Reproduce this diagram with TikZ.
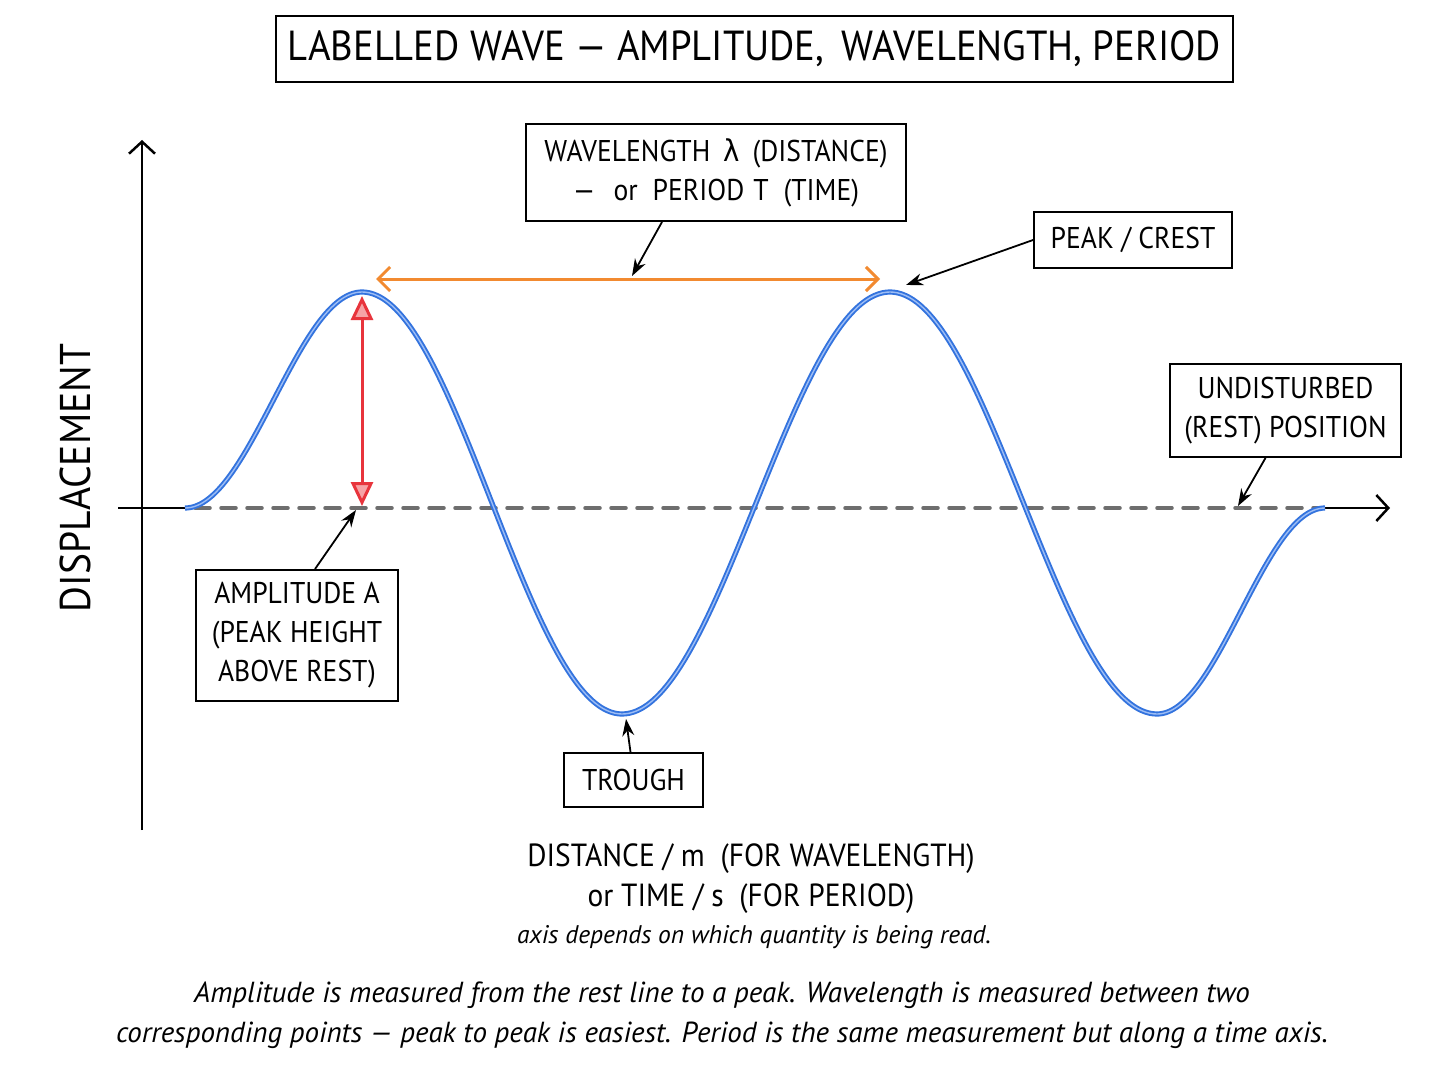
\documentclass[tikz,border=0pt]{standalone}
\usepackage{fontspec}
\setmainfont{PT Sans}[FakeStretch=0.92]
\newfontfamily\capfont{PT Sans}
\newfontfamily\grk{DejaVu Sans}[FakeStretch=0.92]
\usetikzlibrary{arrows.meta}
\definecolor{wblue}{HTML}{3373DE}
\definecolor{wblueL}{HTML}{9DBDF5}
\definecolor{ared}{HTML}{E8343C}
\definecolor{aredL}{HTML}{F6A3A6}
\definecolor{aorange}{HTML}{F28A30}
\definecolor{rgray}{HTML}{6E6E6E}
\begin{document}
\begin{tikzpicture}[x=1pt,y=-1pt,
  box/.style={draw=black, line width=1.9pt, fill=white, inner sep=0pt, align=center},
  lbl/.style={font=\fontsize{30}{39}\selectfont},
  conn/.style={draw=black, line width=1.8pt, -{Stealth[length=17pt,width=12pt]}},
  axis/.style={draw=black, line width=2.5pt},
  wave/.style={draw=wblue, line width=1.9pt, double=wblueL, double distance=1.4pt},
]
\useasboundingbox (0,0) rectangle (1448,1086);
\fill[white] (0,0) rectangle (1448,1086);

% axes
\draw[axis, -{Straight Barb[length=12pt,width=26pt]}] (142,830) -- (142,140);
\draw[axis] (118,508) -- (186,508);
\draw[axis, -{Straight Barb[length=12pt,width=26pt]}] (1324,508) -- (1390,508);
\draw[draw=rgray, line width=3.5pt, line cap=round, dash pattern=on 15pt off 11pt] (195,508) -- (1318,508);

% wave
\draw[wave] plot[domain=185:362, samples=60, smooth] (\x,{508-108*(1-cos((\x-185)/177*180))})
  -- plot[domain=362:622, samples=70, smooth] (\x,{503-211*cos((\x-362)/260*180)})
  -- plot[domain=622:890, samples=70, smooth] (\x,{503+211*cos((\x-622)/268*180)})
  -- plot[domain=890:1157, samples=70, smooth] (\x,{503-211*cos((\x-890)/267*180)})
  -- plot[domain=1157:1325, samples=60, smooth] (\x,{714-103*(1-cos((\x-1157)/168*180))});

% amplitude arrow
\draw[draw=ared, line width=3pt, {Triangle[length=24pt,width=22pt,fill=aredL]}-{Triangle[length=24pt,width=22pt,fill=aredL]}] (362,296) -- (362,506);
% wavelength arrow
\draw[draw=aorange, line width=3pt, {Straight Barb[length=12pt,width=24pt]}-{Straight Barb[length=12pt,width=24pt]}] (376,279) -- (880,279);

% title
\node[box, minimum width=957pt, minimum height=66pt, font=\fontsize{42}{50}\selectfont] (title) at (754.5,49) {LABELLED WAVE — AMPLITUDE,\, WAVELENGTH, PERIOD};

% label boxes
\node[box, lbl, minimum width=380pt, minimum height=97pt] (wl) at (716,172.5) {WAVELENGTH\hspace{13pt}{\grk λ}\hspace{13pt}(DISTANCE)\\—\hspace{18pt}or\hspace{15pt}PERIOD\hspace{9pt}T\hspace{15pt}(TIME)};
\node[box, lbl, minimum width=198pt, minimum height=56pt] (peak) at (1133,240) {PEAK / CREST};
\node[box, lbl, minimum width=231pt, minimum height=93pt] (rest) at (1285.5,410.5) {UNDISTURBED\\(REST) POSITION};
\node[box, lbl, minimum width=202pt, minimum height=131pt] (amp) at (297,635.5) {AMPLITUDE A\\(PEAK HEIGHT\\ABOVE REST)};
\node[box, lbl, minimum width=139pt, minimum height=54pt] (trough) at (633.5,780) {TROUGH};

\coordinate (wlT) at (632,276);
\coordinate (peakT) at (906,285);
\coordinate (restT) at (1238,506);
\coordinate (ampT) at (356,510);
\coordinate (troughT) at (626,719);

\draw[conn] ([xshift=-54pt]wl.south) -- (wlT);
\draw[conn] (peak.west) -- (peakT);
\draw[conn] ([xshift=-20pt]rest.south) -- (restT);
\draw[conn] ([xshift=18pt]amp.north) -- (ampT);
\draw[conn] ([xshift=-3pt]trough.north) -- (troughT);

% axis labels
\node[rotate=90, font=\fontsize{43}{50}\selectfont] (ylab) at (75,478) {DISPLACEMENT};
\node[align=center, font=\fontsize{32}{40}\selectfont] (xlab) at (751,879) {DISTANCE / m\ \ (FOR WAVELENGTH)\\or TIME / s\ \ (FOR PERIOD)};
\node[font=\capfont\itshape\fontsize{25.5}{30}\selectfont] (xnote) at (754,937) {axis depends on which quantity is being read.};

\node[align=center, font=\capfont\itshape\fontsize{29}{40}\selectfont] (caption) at (722,1015) {Amplitude is measured from the rest line to a peak. Wavelength is measured between two\\corresponding points — peak to peak is easiest. Period is the same measurement but along a time axis.};
\end{tikzpicture}
\end{document}
